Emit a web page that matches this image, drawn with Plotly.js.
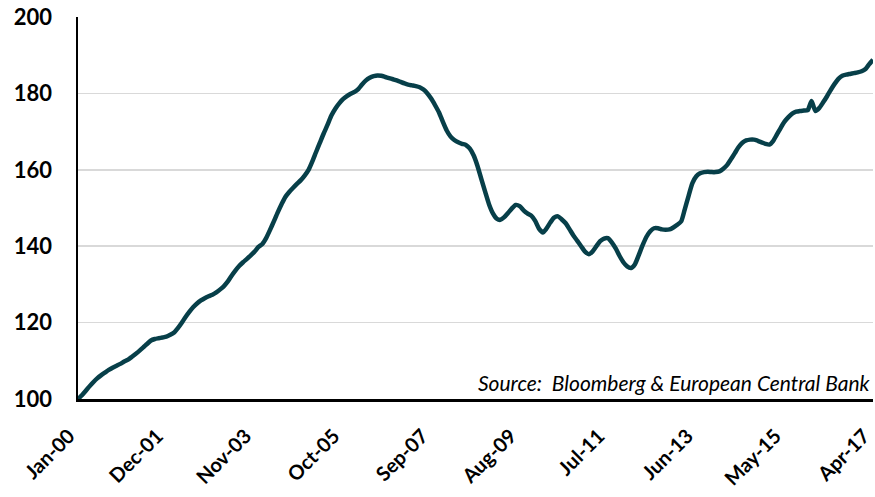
<!DOCTYPE html>
<html>
<head>
<meta charset="utf-8">
<script src="https://cdn.plot.ly/plotly-3.0.1.min.js"></script>
<style>
  html, body { margin: 0; padding: 0; background: #ffffff; }
  #chart { width: 875px; height: 497px; }
</style>
</head>
<body>
<div id="chart"></div>
<script>
// Monthly index values, Jan-2000 .. Apr-2017
const startYear = 2000;
const indexValues = [
  // 2000
  100.0, 101.0, 102.1, 103.3, 104.4, 105.4, 106.2, 106.9, 107.6, 108.2, 108.7, 109.2,
  // 2001
  109.8, 110.3, 111.0, 111.8, 112.6, 113.5, 114.4, 115.3, 115.7, 115.9, 116.1, 116.3,
  // 2002
  116.8, 117.4, 118.5, 119.9, 121.4, 122.8, 124.0, 125.0, 125.8, 126.4, 126.9, 127.3,
  // 2003
  127.9, 128.7, 129.5, 130.7, 132.2, 133.6, 134.8, 135.8, 136.7, 137.6, 138.6, 139.8,
  // 2004
  140.6, 142.2, 144.2, 146.5, 148.8, 151.0, 152.9, 154.2, 155.3, 156.3, 157.3, 158.5,
  // 2005
  160.0, 162.3, 164.6, 167.1, 169.5, 171.8, 174.2, 176.0, 177.4, 178.5, 179.3, 179.9,
  // 2006
  180.4, 181.2, 182.3, 183.4, 184.1, 184.5, 184.7, 184.6, 184.3, 184.0, 183.7, 183.4,
  // 2007
  183.0, 182.6, 182.3, 182.1, 181.9, 181.6, 181.0, 180.0, 178.6, 176.9, 175.0, 172.6,
  // 2008
  170.3, 168.7, 167.8, 167.2, 166.8, 166.5, 165.6, 163.8, 161.0, 157.6, 154.2, 151.0,
  // 2009
  148.6, 147.2, 146.9, 147.6, 148.7, 149.9, 150.8, 150.5, 149.4, 148.6, 148.0, 146.7,
  // 2010
  144.6, 143.6, 144.6, 146.2, 147.5, 147.8, 147.0, 146.0, 144.4, 142.8, 141.4, 140.0,
  // 2011
  138.6, 137.9, 138.6, 140.0, 141.3, 142.0, 142.1, 141.0, 139.4, 137.5, 135.8, 134.7,
  // 2012
  134.3, 135.3, 137.6, 140.2, 142.4, 143.9, 144.7, 144.7, 144.4, 144.3, 144.4, 144.9,
  // 2013
  145.6, 146.5, 149.6, 153.2, 156.5, 158.3, 159.1, 159.4, 159.5, 159.4, 159.4, 159.6,
  // 2014
  160.3, 161.3, 162.7, 164.3, 165.9, 167.1, 167.7, 167.9, 167.9, 167.6, 167.2, 166.8,
  // 2015
  166.6, 167.6, 169.2, 171.0, 172.6, 173.8, 174.7, 175.2, 175.4, 175.5, 175.6, 178.0,
  // 2016
  175.4, 176.2, 177.6, 179.2, 180.9, 182.5, 183.8, 184.6, 184.9, 185.1, 185.3, 185.5,
  // 2017
  185.8, 186.4, 187.6, 188.8
];

const tickDates = ['2000-01-01', '2001-12-01', '2003-11-01', '2005-10-01', '2007-09-01',
                   '2009-08-01', '2011-07-01', '2013-06-01', '2015-05-01', '2017-04-01'];
const tickLabels = ['Jan-00', 'Dec-01', 'Nov-03', 'Oct-05', 'Sep-07',
                    'Aug-09', 'Jul-11', 'Jun-13', 'May-15', 'Apr-17'];
const yTicks = [100, 120, 140, 160, 180, 200];
const sourceText = 'Source:  Bloomberg &amp; European Central Bank';

// month dates for each value
const months = indexValues.map((_, i) => {
  const y = startYear + Math.floor(i / 12);
  const m = (i % 12) + 1;
  return y + '-' + String(m).padStart(2, '0') + '-01';
});

const trace = {
  x: months,
  y: indexValues,
  type: 'scatter',
  mode: 'lines',
  line: { color: '#073F49', width: 4.5, shape: 'spline', smoothing: 0.6 },
  cliponaxis: false,
  hoverinfo: 'x+y'
};

const layout = {
  width: 875,
  height: 497,
  margin: { l: 78, r: 2, t: 17, b: 98 },
  paper_bgcolor: '#ffffff',
  plot_bgcolor: '#ffffff',
  showlegend: false,
  font: { family: 'Lato, "Open Sans", sans-serif', color: '#000000' },
  xaxis: {
    type: 'date',
    range: ['2000-01-01', '2017-04-01 06:00'],
    tickmode: 'array',
    tickvals: tickDates,
    ticktext: tickLabels,
    tickangle: -45,
    tickfont: { family: 'Lato', size: 20, color: '#000000', weight: 'bold' },
    showgrid: false,
    zeroline: false,
    showline: true,
    linecolor: '#000000',
    linewidth: 2.5,
    ticks: '',
    ticklabelstandoff: 15,
    ticklabelshift: -9,
    ticklabeloverflow: 'allow',
    fixedrange: true
  },
  yaxis: {
    range: [100, 200],
    tickmode: 'array',
    tickvals: yTicks,
    ticktext: yTicks.map(String),
    tickfont: { family: 'Lato', size: 22, color: '#000000', weight: 'bold' },
    showgrid: true,
    gridcolor: '#D9D9D9',
    gridwidth: 1.5,
    zeroline: false,
    showline: true,
    linecolor: '#000000',
    linewidth: 2.5,
    ticks: '',
    ticklabelstandoff: 19,
    fixedrange: true
  },
  annotations: [{
    text: sourceText,
    xref: 'paper', yref: 'paper',
    x: 1.0, y: 0.006,
    xanchor: 'right', yanchor: 'bottom',
    showarrow: false,
    font: { family: 'Lato', size: 21, color: '#000000', style: 'italic' }
  }]
};

Plotly.newPlot('chart', [trace], layout, { displayModeBar: false, staticPlot: true });
</script>
</body>
</html>
